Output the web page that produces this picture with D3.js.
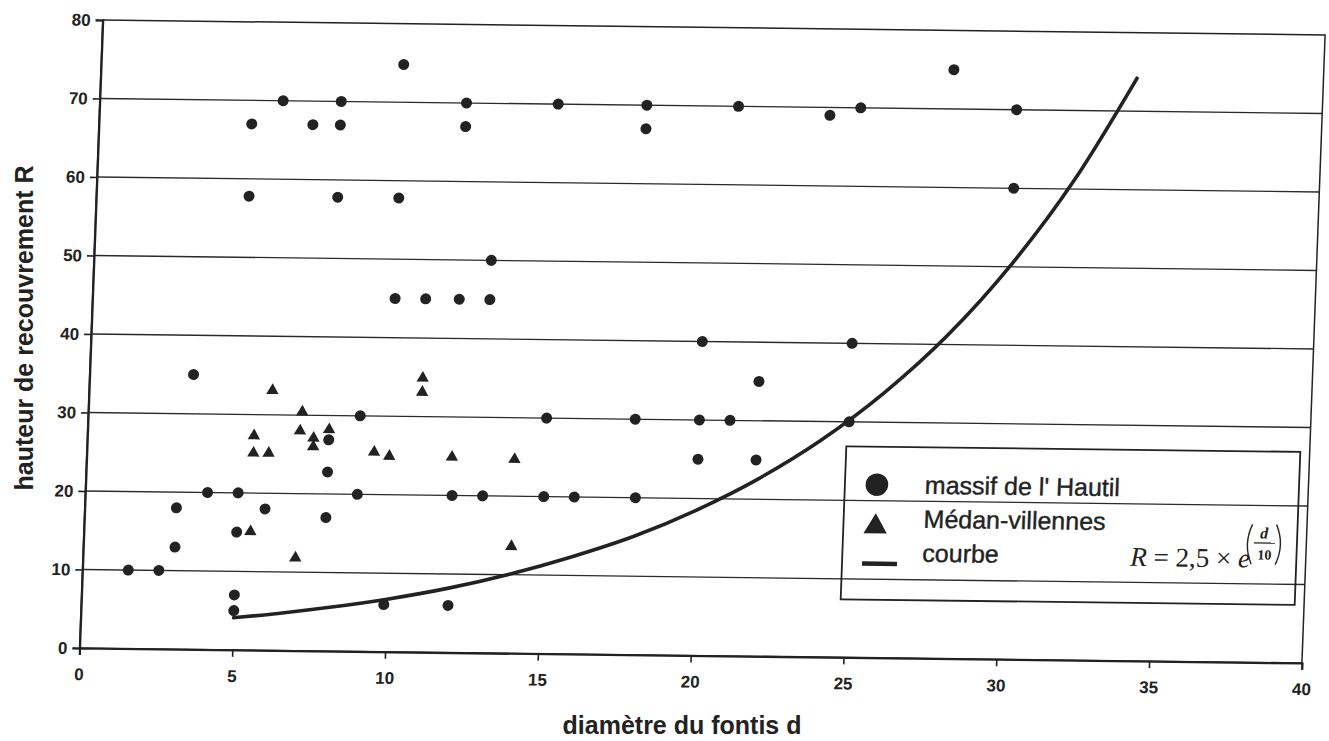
<!DOCTYPE html>
<html><head><meta charset="utf-8">
<script src="https://cdn.jsdelivr.net/npm/d3@7"></script>
<style>body{margin:0;background:#fff}svg{display:block}</style>
</head><body>
<svg id="c" width="1329" height="741"></svg>
<script>
// ---- data ----
const xTicks = [0, 5, 10, 15, 20, 25, 30, 35, 40];
const yTicks = [0, 10, 20, 30, 40, 50, 60, 70, 80];

const hautilD = [1.5, 2.5, 3, 3, 3.4, 4, 5, 5, 5, 5, 5.9, 7.9, 7.9, 7.9, 8.9, 8.9, 9.9, 12,
  5, 5, 6, 7, 7.9, 7.9, 7.9, 9.9, 9.9, 9.9, 10.9, 12, 12, 12, 13, 13, 15, 17.9, 17.9, 20.9, 23.9, 24.9, 27.9, 30, 30,
  20, 24.9, 21.9, 15, 17.9, 20, 21, 24.9, 20, 21.9, 12, 13, 15, 16, 18];
const hautilR = [10, 10, 13, 18, 35, 20, 20, 15, 7, 5, 18, 22.8, 17, 26.9, 30, 20, 6, 6,
  67, 57.8, 70, 67, 70, 67, 57.8, 74.8, 57.8, 45, 45, 70, 67, 45, 45, 50, 70, 70, 67, 70, 69, 70, 75, 70, 60,
  40, 40, 35, 30, 30, 30, 30, 30, 25, 25, 20, 20, 20, 20, 20];

const medanD = [6, 7, 5.45, 5.45, 5.95, 6.95, 7.4, 7.4, 7.9, 9.4, 9.9, 5.45, 6.95, 10.9, 10.9, 11.95, 14, 14];
const medanR = [33.1, 30.4, 27.3, 25.1, 25.1, 28, 27.1, 26, 28.2, 25.4, 24.9, 15.1, 11.8, 34.9, 33.1, 24.9, 24.7, 13.6];

const curveD = [5, 6, 8, 10, 12, 14, 16, 18, 20, 22, 24, 26, 28, 30, 32, 33.9];
const curveR = [4.1, 4.5, 5.5, 6.7, 8.2, 10.1, 12.4, 15.1, 18.5, 22.6, 27.6, 33.7, 41.1, 50.2, 61.3, 74.2];

const legendLabels = ["massif de l' Hautil", "Médan-villennes", "courbe"];

// ---- drawing ----
const W = 1222.4, H = 628;
const ink = "#222";
const x = d3.scaleLinear().domain([0, 40]).range([0, W]);
const y = d3.scaleLinear().domain([0, 80]).range([H, 0]);

const svg = d3.select("#c");
// the scanned page is slightly skewed; reproduce with an affine transform
const g = svg.append("g").attr("transform", "matrix(1,0.01227,-0.0369,1,102.7,20)");

// horizontal grid lines
g.append("g").selectAll("line").data(yTicks.slice(1, -1)).join("line")
  .attr("x1", 0).attr("x2", W).attr("y1", d => y(d)).attr("y2", d => y(d))
  .attr("stroke", "#2a2a2a").attr("stroke-width", 1.3);

// plot border
g.append("rect").attr("x", 0).attr("y", 0).attr("width", W).attr("height", H)
  .attr("fill", "none").attr("stroke", ink).attr("stroke-width", 1.5);

// axes
const fontSans = "'Liberation Sans', Arial, sans-serif";
const gx = g.append("g").attr("transform", `translate(0,${H})`)
  .call(d3.axisBottom(x).tickValues(xTicks).tickSize(7).tickPadding(13).tickFormat(d3.format("d")));
const gy = g.append("g")
  .call(d3.axisLeft(y).tickValues(yTicks).tickSize(7).tickPadding(5).tickFormat(d3.format("d")));
[gx, gy].forEach(a => {
  a.select(".domain").attr("stroke", ink).attr("stroke-width", 2.2);
  a.selectAll(".tick line").attr("stroke", ink).attr("stroke-width", 1.6);
  a.selectAll(".tick text").attr("fill", ink).style("font-family", fontSans)
    .style("font-size", "17px").style("font-weight", "bold");
});

// exponential curve
const line = d3.line().x(d => x(d[0])).y(d => y(d[1])).curve(d3.curveMonotoneX);
g.append("path").datum(curveD.map((d, i) => [d, curveR[i]]))
  .attr("d", line).attr("fill", "none").attr("stroke", ink)
  .attr("stroke-width", 3.6).attr("stroke-linecap", "round");

// circles
g.append("g").selectAll("circle").data(hautilD.map((d, i) => [d, hautilR[i]])).join("circle")
  .attr("cx", d => x(d[0])).attr("cy", d => y(d[1])).attr("r", 5.5).attr("fill", ink);

// triangles
const tri = d3.symbol().type(d3.symbolTriangle).size(66);
g.append("g").selectAll("path").data(medanD.map((d, i) => [d, medanR[i]])).join("path")
  .attr("d", tri).attr("transform", d => `translate(${x(d[0])},${y(d[1])})`).attr("fill", ink);

// legend (transparent box)
const lg = g.append("g");
lg.append("rect").attr("x", 759).attr("y", 417).attr("width", 454).attr("height", 153)
  .attr("fill", "none").attr("stroke", ink).attr("stroke-width", 1.8);
lg.append("circle").attr("cx", 791).attr("cy", 455).attr("r", 11.3).attr("fill", ink);
lg.append("path").attr("d", d3.symbol().type(d3.symbolTriangle).size(235))
  .attr("transform", "translate(791,497)").attr("fill", ink);
lg.append("line").attr("x1", 779).attr("x2", 814).attr("y1", 534).attr("y2", 534)
  .attr("stroke", ink).attr("stroke-width", 4.5);
lg.selectAll("text.lab").data(legendLabels).join("text").attr("class", "lab")
  .attr("x", 839).attr("y", (d, i) => [463.5, 497.5, 531.5][i])
  .style("font-family", fontSans).style("font-size", "25px").attr("fill", ink)
  .attr("stroke", ink).attr("stroke-width", 0.4)
  .text(d => d);

// formula R = 2,5 × e^(d/10)
const fg = lg.append("g").attr("transform", "translate(1047,533)");
const serif = "'Liberation Serif', 'Times New Roman', serif";
const ft = fg.append("text").attr("x", 0).attr("y", 0)
  .style("font-family", serif).style("font-size", "27px").attr("fill", ink);
ft.append("tspan").style("font-style", "italic").text("R");
ft.append("tspan").text(" = 2,5 × ");
ft.append("tspan").style("font-style", "italic").text("e");
fg.append("path").attr("d", "M121,-43 Q112,-23 121,-3").attr("fill", "none")
  .attr("stroke", ink).attr("stroke-width", 1.4);
fg.append("path").attr("d", "M145,-43 Q154,-23 145,-3").attr("fill", "none")
  .attr("stroke", ink).attr("stroke-width", 1.4);
fg.append("text").attr("x", 133).attr("y", -29).attr("text-anchor", "middle")
  .style("font-family", serif).style("font-size", "16px").style("font-style", "italic")
  .style("font-weight", "bold").attr("fill", ink).text("d");
fg.append("line").attr("x1", 123).attr("x2", 144).attr("y1", -24.5).attr("y2", -24.5)
  .attr("stroke", ink).attr("stroke-width", 1.2);
fg.append("text").attr("x", 134).attr("y", -8).attr("text-anchor", "middle")
  .style("font-family", serif).style("font-size", "14px").style("font-weight", "bold")
  .attr("fill", ink).text("10");

// axis titles
svg.append("text").attr("transform", "translate(33,328) rotate(-90)")
  .attr("text-anchor", "middle").style("font-family", fontSans).style("font-size", "25px")
  .style("font-weight", "bold").attr("fill", ink).text("hauteur de recouvrement R");
svg.append("text").attr("x", 682).attr("y", 734).attr("text-anchor", "middle")
  .style("font-family", fontSans).style("font-size", "25px")
  .style("font-weight", "bold").attr("fill", ink).text("diamètre du fontis d");
</script>
</body></html>
